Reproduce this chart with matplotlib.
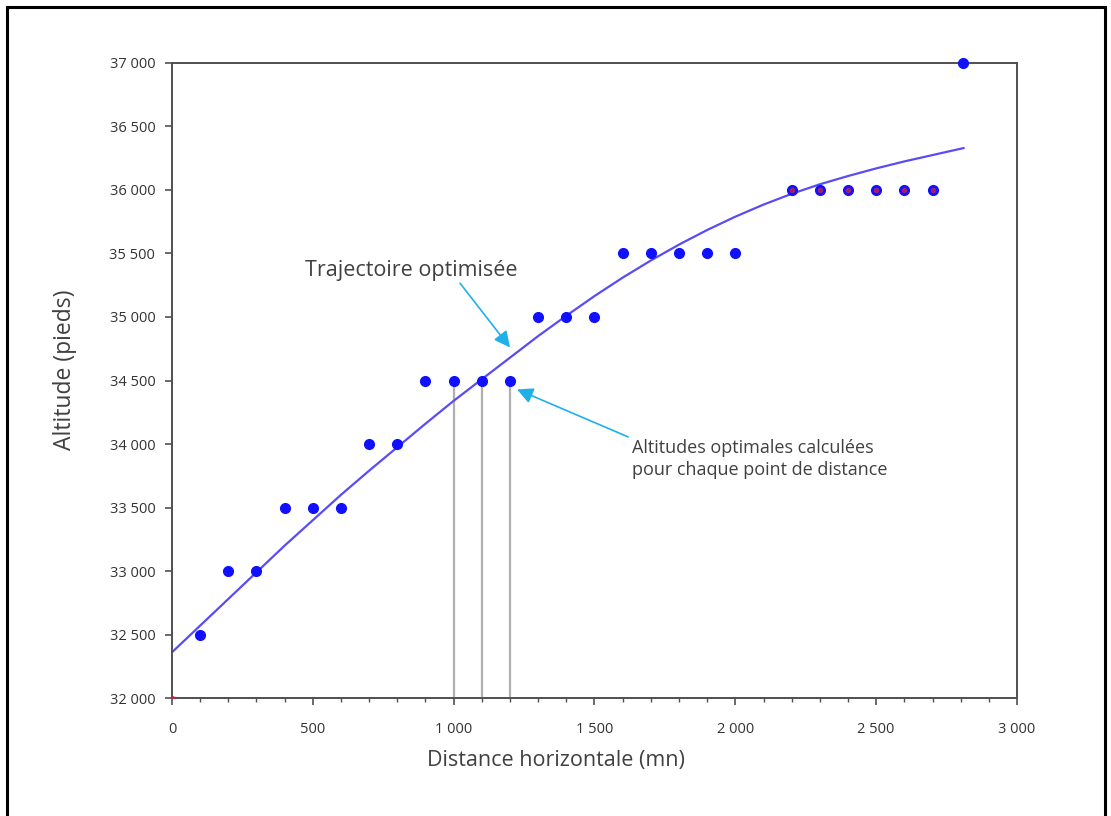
import matplotlib.pyplot as plt
from matplotlib.patches import Rectangle
from matplotlib.ticker import MultipleLocator, FuncFormatter

plt.rcParams['font.family'] = ['Open Sans', 'DejaVu Sans']

# Optimal altitudes computed at each distance point
dist_pts = [100, 200, 300, 400, 500, 600, 700, 800, 900, 1000, 1100, 1200,
            1300, 1400, 1500, 1600, 1700, 1800, 1900, 2000,
            2200, 2300, 2400, 2500, 2600, 2700, 2810]
alt_pts = [32500, 33000, 33000, 33500, 33500, 33500, 34000, 34000, 34500, 34500, 34500, 34500,
           35000, 35000, 35000, 35500, 35500, 35500, 35500, 35500,
           36000, 36000, 36000, 36000, 36000, 36000, 37000]

# red points (partly hidden under the blue ones)
red_x = [0, 2200, 2300, 2400, 2500, 2600, 2700]
red_y = [32000, 36000, 36000, 36000, 36000, 36000, 36000]

# optimised trajectory
traj_x = [0, 100, 200, 300, 400, 500, 600, 700, 800, 900, 1000, 1100, 1200, 1300, 1400,
          1500, 1600, 1700, 1800, 1900, 2000, 2100, 2200, 2300, 2400, 2500, 2600, 2700, 2810]
traj_y = [32360, 32570, 32780, 32990, 33200, 33400, 33600, 33790, 33975, 34160, 34340,
          34510, 34680, 34850, 35010, 35165, 35310, 35445, 35570, 35685, 35790, 35885,
          35970, 36045, 36110, 36170, 36225, 36275, 36330]

# vertical reference lines
vlines_x = [1000, 1100, 1200]
vlines_top = 34500

fig = plt.figure(figsize=(11.11, 8.16), dpi=100)
ax = fig.add_axes([0.1548, 0.1446, 0.7606, 0.7782])

ax.vlines(vlines_x, 32000, vlines_top, color='#b0b0b0', linewidth=1.6, zorder=1)
ax.plot(traj_x, traj_y, color='#5a4cf5', linewidth=1.6, zorder=2)
ax.plot(dist_pts, alt_pts, 'o', color='#1010ff', markersize=7, zorder=3, clip_on=False)
ax.plot(red_x, red_y, 'o', color='#d02040', markersize=3, alpha=0.7, zorder=4)

ax.set_xlim(0, 3000)
ax.set_ylim(32000, 37000)
ax.xaxis.set_major_locator(MultipleLocator(500))
ax.xaxis.set_minor_locator(MultipleLocator(100))
ax.yaxis.set_major_locator(MultipleLocator(500))

fmt = FuncFormatter(lambda v, p: f"{int(v):,}".replace(",", " "))
ax.xaxis.set_major_formatter(fmt)
ax.yaxis.set_major_formatter(fmt)

for s in ax.spines.values():
    s.set_color('#505050')
    s.set_linewidth(1.4)
ax.tick_params(which='major', length=5, width=1.2, color='#505050', labelsize=10.5,
               labelcolor='#333333')
ax.tick_params(axis='x', which='major', pad=12)
ax.tick_params(axis='y', which='major', pad=7)
ax.tick_params(which='minor', length=3, width=1.0, color='#505050')

ax.set_xlabel('Distance horizontale (mn)', fontsize=15.5, color='#404040')
ax.set_ylabel('Altitude (pieds)', fontsize=16.5, color='#404040')
ax.xaxis.set_label_coords(0.454, -0.082)
ax.yaxis.set_label_coords(-0.112, 0.517)

arrow_col = '#1fb0ea'
ax.annotate('Trajectoire optimisée', xy=(1200, 34760), xytext=(472, 35370),
            fontsize=15.5, color='#404040', va='center', ha='left',
            arrowprops=dict(arrowstyle='-|>', color=arrow_col, lw=1.2,
                            mutation_scale=24, shrinkA=0, shrinkB=0,
                            relpos=(0.72, 0.0)))
ax.annotate('Altitudes optimales calculées\npour chaque point de distance',
            xy=(1225, 34430), xytext=(1633, 34040),
            fontsize=13, color='#404040', va='top', ha='left', linespacing=1.3,
            arrowprops=dict(arrowstyle='-|>', color=arrow_col, lw=1.2,
                            mutation_scale=24, shrinkA=0, shrinkB=0,
                            relpos=(-0.015, 1.05)))

fig.patches.append(Rectangle((7 / 1111, -0.01), 1098 / 1111, 1 - 7 / 816 + 0.01,
                             transform=fig.transFigure, fill=False,
                             edgecolor='black', linewidth=2.2))

fig.savefig('out.png', dpi=100)
